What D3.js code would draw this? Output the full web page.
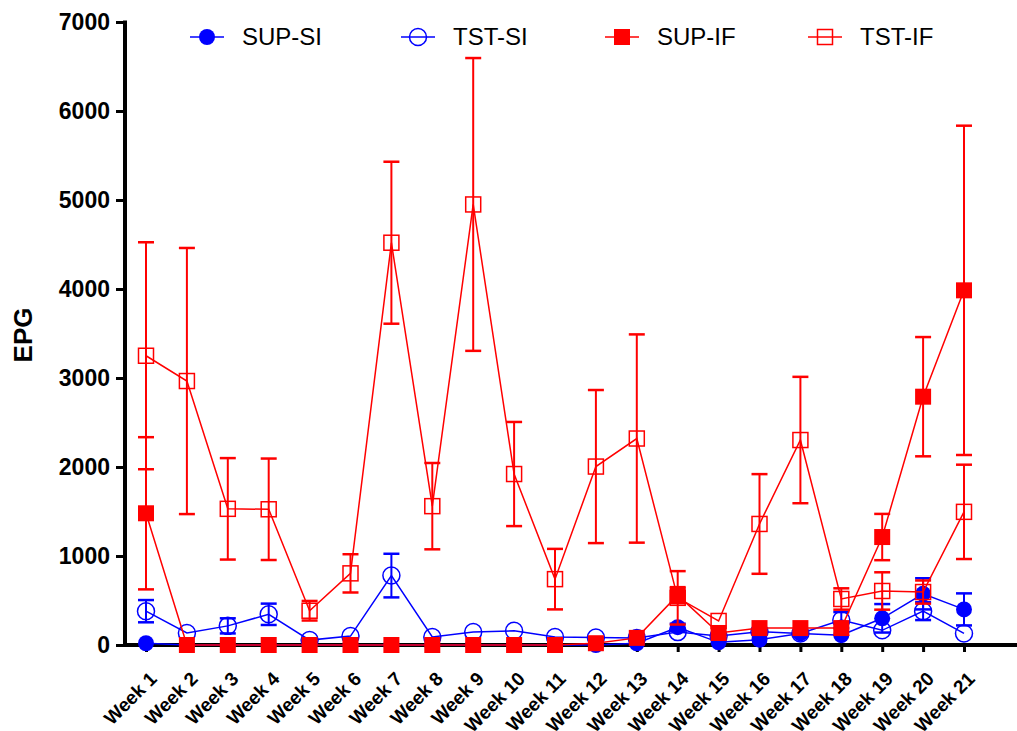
<!DOCTYPE html>
<html><head><meta charset="utf-8">
<script src="https://cdn.jsdelivr.net/npm/d3@7"></script>
<style>body{margin:0;background:#fff}svg{display:block;font-family:"Liberation Sans",Arial,sans-serif}</style>
</head><body><svg id="c" width="1017" height="731"></svg>
<script>
const weeks = d3.range(1,22).map(i=>"Week "+i);
const yTicks = [0,1000,2000,3000,4000,5000,6000,7000];
const supSI    = [20,0,0,0,0,0,0,0,0,0,0,0,20,200,30,60,130,110,300,575,400];
const supSIerr = [0,0,0,0,0,0,0,0,0,0,0,0,0,40,0,0,0,0,160,175,180];
const tstSI    = [380,135,215,345,55,100,780,90,145,160,90,85,80,145,100,150,130,280,165,380,130];
const tstSIerr = [125,0,85,120,0,0,245,0,0,0,0,0,0,0,0,0,0,90,0,100,0];
const supIF    = [1480,0,0,0,0,0,0,0,0,0,0,20,80,560,135,190,190,190,1213,2790,3985];
const supIFerr = [855,0,0,0,0,0,0,0,0,0,0,0,0,90,0,0,0,0,260,670,1850];
const tstIF    = [3250,2966,1530,1525,385,805,4520,1560,4950,1921,740,2005,2320,530,270,1360,2303,517,607,595,1496];
const tstIFerr = [1275,1495,570,570,110,215,910,485,1645,585,340,860,1170,300,0,560,710,120,210,130,530];

const series = [
  {name:"SUP-SI", vals:supSI, err:supSIerr, color:"#0000ff", shape:"circle", filled:true},
  {name:"TST-SI", vals:tstSI, err:tstSIerr, color:"#0000ff", shape:"circle", filled:false},
  {name:"SUP-IF", vals:supIF, err:supIFerr, color:"#ff0000", shape:"square", filled:true},
  {name:"TST-IF", vals:tstIF, err:tstIFerr, color:"#ff0000", shape:"square", filled:false}
];

const svg = d3.select("#c");
const x = d3.scalePoint().domain(weeks).range([146,964]);
const y = d3.scaleLinear().domain([0,7000]).range([645,22]);

// axes
const xAxis = svg.append("g").attr("transform","translate(0,645)")
  .call(d3.axisBottom(x).tickSizeOuter(0).tickSize(7).tickFormat(""));
xAxis.select(".domain").remove();
xAxis.selectAll(".tick line").attr("stroke","#000").attr("stroke-width",3);
svg.append("line").attr("x1",123).attr("x2",1017).attr("y1",645).attr("y2",645)
  .attr("stroke","#000").attr("stroke-width",4);

const yAxis = svg.append("g").attr("transform","translate(125,0)")
  .call(d3.axisLeft(y).tickValues(yTicks).tickSize(9).tickSizeOuter(0).tickFormat(d3.format("d")));
yAxis.select(".domain").remove();
yAxis.selectAll(".tick line").attr("stroke","#000").attr("stroke-width",3);
yAxis.selectAll(".tick text").attr("font-size",23).attr("font-weight","bold")
  .attr("fill","#000").attr("x",-15).attr("font-family","Liberation Sans, Arial, sans-serif");
svg.append("line").attr("x1",125).attr("x2",125).attr("y1",y(7000)-1.5).attr("y2",647)
  .attr("stroke","#000").attr("stroke-width",4);

// x labels
svg.append("g").selectAll("text").data(weeks).join("text")
  .attr("transform",d=>`translate(${x(d)+12},680) rotate(-45)`)
  .attr("text-anchor","end").attr("font-size",19).attr("font-weight","bold")
  .text(d=>d);

svg.append("text").attr("transform","translate(32,335) rotate(-90)")
  .attr("text-anchor","middle").attr("font-size",26).attr("font-weight","bold").text("EPG");

function marker(g, s, cx, cy){
  if(s.shape==="circle"){
    g.append("circle").attr("cx",cx).attr("cy",cy).attr("r",s.filled?8:8.5)
      .attr("fill",s.filled?s.color:"none").attr("stroke",s.color).attr("stroke-width",s.filled?0:1.5);
  } else {
    const h = s.filled?8:7.5;
    g.append("rect").attr("x",cx-h).attr("y",cy-h).attr("width",2*h).attr("height",2*h)
      .attr("fill",s.filled?s.color:"none").attr("stroke",s.color).attr("stroke-width",s.filled?0:1.5);
  }
}

series.forEach(s=>{
  const g = svg.append("g");
  const data = weeks.map((w,i)=>({w,v:s.vals[i],e:s.err[i]}));
  data.filter(d=>d.e>0).forEach(d=>{
    const cx=x(d.w);
    g.append("line").attr("x1",cx).attr("x2",cx).attr("y1",y(d.v+d.e)).attr("y2",y(Math.max(0,d.v-d.e)))
      .attr("stroke",s.color).attr("stroke-width",2);
    [d.v+d.e, d.v-d.e].forEach(v=>{ if(v>0)
      g.append("line").attr("x1",cx-8).attr("x2",cx+8).attr("y1",y(v)).attr("y2",y(v))
        .attr("stroke",s.color).attr("stroke-width",2.5);
    });
  });
  g.append("path").datum(data)
    .attr("d",d3.line().x(d=>x(d.w)).y(d=>y(d.v)))
    .attr("fill","none").attr("stroke",s.color).attr("stroke-width",1.5);
  data.forEach(d=>marker(g,s,x(d.w),y(d.v)));
});

// legend
const legX = [207,418,622,825];
series.forEach((s,i)=>{
  const g = svg.append("g");
  g.append("line").attr("x1",legX[i]-17).attr("x2",legX[i]+17).attr("y1",37).attr("y2",37)
    .attr("stroke",s.color).attr("stroke-width",1.5);
  marker(g,s,legX[i],37);
  g.append("text").attr("x",legX[i]+35).attr("y",37).attr("dy","0.35em")
    .attr("font-size",24).text(s.name);
});
</script></body></html>
